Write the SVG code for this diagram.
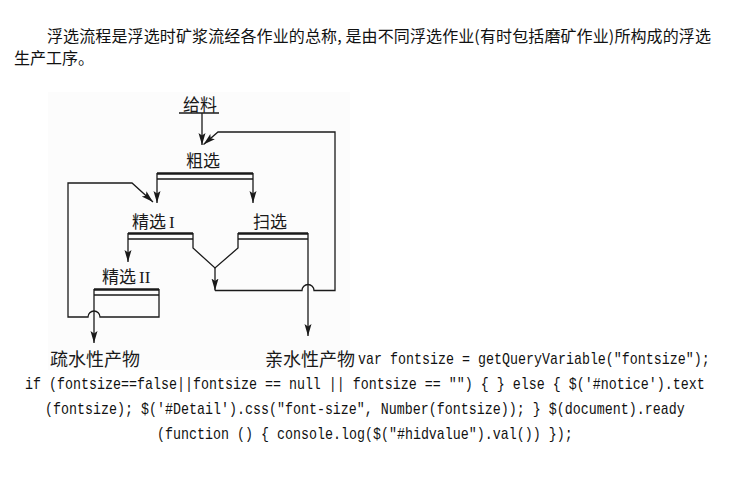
<svg xmlns="http://www.w3.org/2000/svg" width="730" height="489" viewBox="0 0 730 489">
<style>
.ln{fill:none;stroke:#1a1a1a;stroke-width:1.3;}
.bar{fill:none;stroke:#1a1a1a;stroke-width:2.6;}
.lbl{font-family:"Liberation Serif","Noto Sans CJK SC",serif;font-size:17px;fill:#1a1a1a;}
.out{font-family:"Noto Sans CJK SC",sans-serif;font-size:18px;fill:#1a1a1a;}
.para{font-family:"Noto Sans CJK SC",sans-serif;font-size:16px;fill:#111;}
.code{font-family:"Liberation Mono",monospace;font-size:16px;fill:#111;}
</style>
<defs>
<marker id="ar" markerUnits="userSpaceOnUse" markerWidth="13" markerHeight="8" refX="12" refY="3.5" orient="auto">
<path d="M0,0 L12,3.5 L0,7 L2.5,3.5 z" fill="#1a1a1a"/>
</marker>
</defs>
<rect x="0" y="0" width="730" height="489" fill="#ffffff"/>
<text class="para" x="47" y="42" textLength="664" lengthAdjust="spacing">浮选流程是浮选时矿浆流经各作业的总称, 是由不同浮选作业(有时包括磨矿作业)所构成的浮选</text>
<text class="para" x="14" y="64">生产工序。</text>
<rect x="48" y="92" width="302" height="278" fill="#fcfcfc"/>
<g id="feed">
<text class="lbl" x="200" y="111" text-anchor="middle">给料</text>
<line class="ln" x1="179" y1="113" x2="219" y2="113" stroke-width="1.6"/>
</g>
<g id="rougher">
<text class="lbl" x="203" y="167" text-anchor="middle">粗选</text>
<line class="bar" x1="157" y1="173.5" x2="253" y2="173.5"/>
<line class="ln" x1="157" y1="179" x2="253" y2="179"/>
</g>
<g id="cleaner1">
<text class="lbl" x="132" y="228">精选<tspan dx="3">I</tspan></text>
<line class="bar" x1="128" y1="233.5" x2="193" y2="233.5"/>
<line class="ln" x1="128" y1="239" x2="193" y2="239"/>
</g>
<g id="scavenger">
<text class="lbl" x="253" y="228">扫选</text>
<line class="bar" x1="238" y1="233.5" x2="308" y2="233.5"/>
<line class="ln" x1="238" y1="239" x2="308" y2="239"/>
</g>
<g id="cleaner2">
<text class="lbl" x="102" y="283">精选<tspan dx="3">II</tspan></text>
<line class="bar" x1="94" y1="289.5" x2="159" y2="289.5"/>
<line class="ln" x1="94" y1="295" x2="159" y2="295"/>
</g>
<g id="hydrophobic">
<text class="out" x="50" y="366">疏水性产物</text>
</g>
<g id="hydrophilic">
<text class="out" x="265" y="366">亲水性产物</text>
</g>
<g id="connectors">
<path class="ln" d="M202,113 V145" marker-end="url(#ar)"/>
<path class="ln" d="M157,173 V203" marker-end="url(#ar)"/>
<path class="ln" d="M253,173 V203" marker-end="url(#ar)"/>
<path class="ln" d="M128,233 V262" marker-end="url(#ar)"/>
<path class="ln" d="M94,289 V343" marker-end="url(#ar)"/>
<path class="ln" d="M308,233 V336" marker-end="url(#ar)"/>
<path class="ln" d="M193,233 V248 L215,268 L238,248 V233"/>
<path class="ln" d="M215,268 V290.5" marker-end="url(#ar)"/>
<path class="ln" d="M215,290.5 H302 A6,6 0 0 1 314,290.5 H335 V132 H218 L203.5,144.5" marker-end="url(#ar)"/>
<path class="ln" d="M159,289 V317 H100 A6,6 0 0 0 88,317 H68 V183 H132 L153,202" marker-end="url(#ar)"/>
</g>
<g transform="scale(0.8333,1)">
<text class="code" x="429.6" y="364">var fontsize = getQueryVariable("fontsize");</text>
<text class="code" x="30" y="389">if (fontsize==false||fontsize == null || fontsize == "") { } else { $('#notice').text</text>
<text class="code" x="54" y="414">(fontsize); $('#Detail').css("font-size", Number(fontsize)); } $(document).ready</text>
<text class="code" x="188.4" y="439">(function () { console.log($("#hidvalue").val()) });</text>
</g>
</svg>
